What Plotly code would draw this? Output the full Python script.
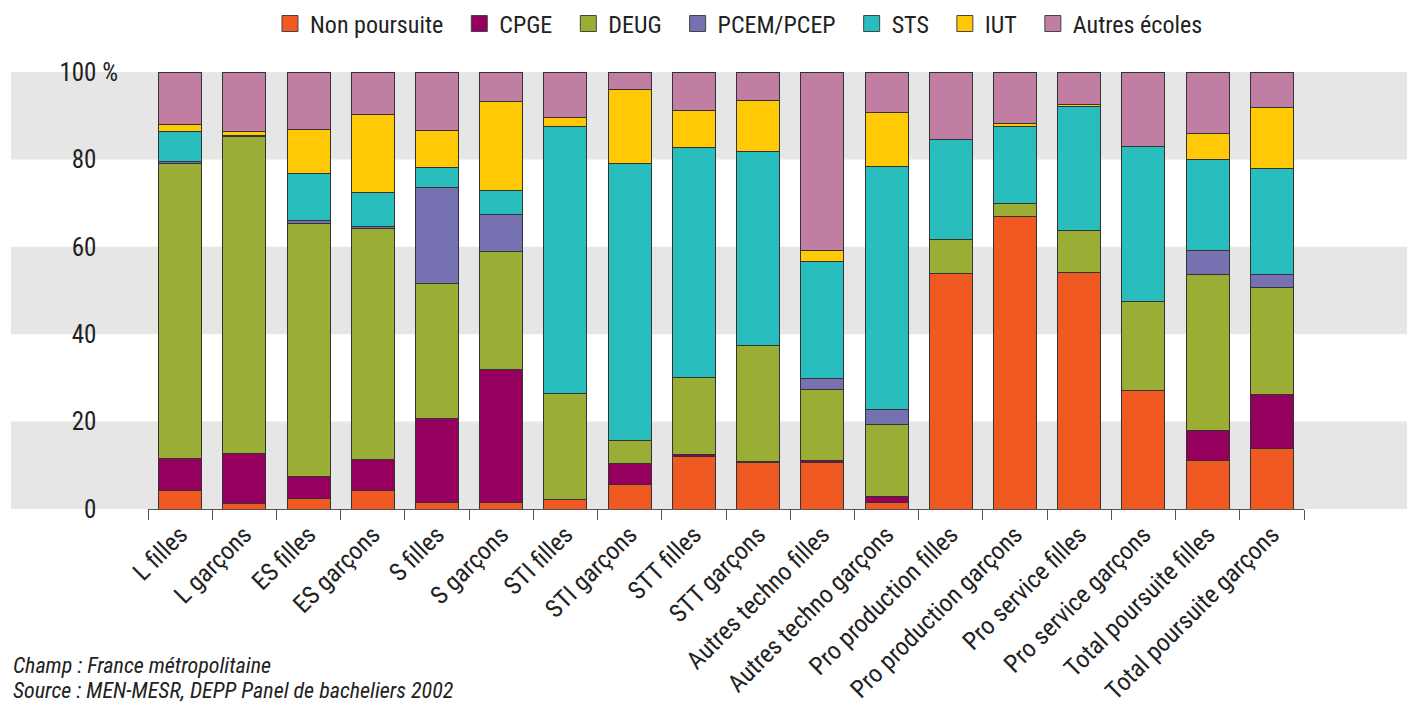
import plotly.graph_objects as go

# Parcours des bacheliers 2002 selon la série du bac et le sexe (en %)
categories = [
    "L filles", "L garçons", "ES filles", "ES garçons", "S filles", "S garçons",
    "STI filles", "STI garçons", "STT filles", "STT garçons",
    "Autres techno filles", "Autres techno garçons",
    "Pro production filles", "Pro production garçons",
    "Pro service filles", "Pro service garçons",
    "Total poursuite filles", "Total poursuite garçons",
]

non_poursuite = [4.2, 1.2, 2.4, 4.2, 1.4, 1.4, 2.1, 5.7, 12.0, 10.7, 10.6, 1.4, 53.9, 67.0, 54.2, 27.2, 11.2, 13.9]
cpge          = [7.4, 11.4, 5.0, 7.2, 19.2, 30.6, 0.0, 4.6, 0.4, 0.2, 0.6, 1.5, 0.0, 0.0, 0.0, 0.0, 6.8, 12.4]
deug          = [67.5, 72.6, 58.0, 52.9, 31.0, 27.0, 24.4, 5.3, 17.7, 26.6, 16.2, 16.4, 7.7, 3.0, 9.6, 20.3, 35.7, 24.4]
pcem_pcep     = [0.4, 0.0, 0.6, 0.3, 22.0, 8.4, 0.0, 0.0, 0.0, 0.0, 2.5, 3.4, 0.0, 0.0, 0.0, 0.0, 5.5, 3.0]
sts           = [6.8, 0.2, 10.7, 7.9, 4.6, 5.4, 61.0, 63.5, 52.7, 44.2, 26.8, 55.7, 23.0, 17.5, 28.3, 35.5, 20.7, 24.3]
iut           = [1.6, 1.0, 10.2, 17.7, 8.4, 20.4, 2.0, 16.9, 8.5, 11.8, 2.5, 12.4, 0.0, 0.8, 0.5, 0.0, 6.1, 13.9]
autres_ecoles = [12.1, 13.6, 13.1, 9.8, 13.4, 6.8, 10.5, 4.0, 8.7, 6.5, 40.8, 9.2, 15.4, 11.7, 7.4, 17.0, 14.0, 8.1]

series_names = ["Non poursuite", "CPGE", "DEUG", "PCEM/PCEP", "STS", "IUT", "Autres écoles"]
series_values = [non_poursuite, cpge, deug, pcem_pcep, sts, iut, autres_ecoles]
series_colors = ["#f05a22", "#95005f", "#9aad35", "#7671b0", "#29bdbe", "#ffc905", "#c07ea3"]

y_ticks = [0, 20, 40, 60, 80, 100]

FONT = "Liberation Sans Narrow, Roboto Condensed, Roboto, sans-serif"
TEXT = "#222222"
OUTLINE = "#333333"

x_pos = list(range(len(categories)))

fig = go.Figure()

for name, vals, color in zip(series_names, series_values, series_colors):
    fig.add_trace(go.Bar(
        x=x_pos, y=vals, name=name, showlegend=False,
        marker=dict(color=color, line=dict(color=OUTLINE, width=1)),
        width=0.67,
    ))

# Legend entries with larger square swatches
for name, color in zip(series_names, series_colors):
    fig.add_trace(go.Scatter(
        x=[None], y=[None], mode="markers", name=name + "\u00a0\u00a0",
        marker=dict(symbol="square", size=19, color=color, line=dict(color="#444", width=1)),
    ))

# Alternating grey bands behind the bars
for lo in (0, 40, 80):
    fig.add_shape(type="rect", xref="paper", yref="y",
                  x0=-0.1186, x1=1.0895, y0=lo, y1=lo + 20,
                  fillcolor="#e6e6e6", line=dict(width=0), layer="below")

hidden = "<span style='color:rgba(0,0,0,0)'> %</span>"
y_text = [f"{v}{hidden}" if v != 100 else "100 %" for v in y_ticks]

fig.update_layout(
    width=1407, height=704,
    margin=dict(l=148, r=103.4, t=72, b=195, autoexpand=False),
    paper_bgcolor="white", plot_bgcolor="rgba(0,0,0,0)",
    barmode="stack", bargap=0.33,
    font=dict(family=FONT, size=25, color=TEXT),
    showlegend=True,
    legend=dict(orientation="h", x=0.516, xanchor="center", y=1.11, yanchor="middle",
                traceorder="normal",
                font=dict(size=24, color=TEXT), itemwidth=30,
                bgcolor="rgba(0,0,0,0)", tracegroupgap=0),
    xaxis=dict(
        range=[-0.5, 17.5], tickmode="array", tickvals=x_pos, ticktext=categories,
        tickangle=-45, ticks="", showgrid=False, zeroline=False,
        showline=True, linecolor="#555555", linewidth=1,
        tickfont=dict(size=25, color=TEXT),
        minor=dict(tickmode="array", tickvals=[i - 0.5 for i in range(len(categories) + 1)],
                   ticks="outside", ticklen=10, tickcolor="#555555", tickwidth=1, showgrid=False),
    ),
    yaxis=dict(
        range=[0, 100], tickmode="array", tickvals=y_ticks, ticktext=y_text,
        ticks="", showgrid=False, zeroline=False, showline=False,
        tickfont=dict(size=25, color=TEXT), ticklabelstandoff=29,
    ),
)

fig.add_annotation(text="<i>Champ : France métropolitaine</i>", xref="paper", yref="paper",
                   x=(11 - 148) / 1155.6, y=(509 - 665) / 437, xanchor="left", yanchor="middle",
                   showarrow=False, font=dict(size=22, color=TEXT))
fig.add_annotation(text="<i>Source : MEN-MESR, DEPP Panel de bacheliers 2002</i>", xref="paper", yref="paper",
                   x=(11 - 148) / 1155.6, y=(509 - 690) / 437, xanchor="left", yanchor="middle",
                   showarrow=False, font=dict(size=22, color=TEXT))

fig.write_html("out.html")
